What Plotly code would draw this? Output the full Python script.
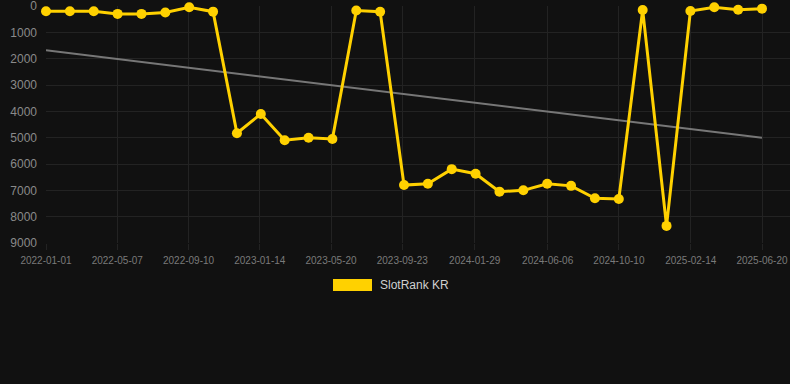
import numpy as np
import pandas as pd
import plotly.graph_objects as go

# ---- data ----
first_date = "2022-01-01"
last_date = "2025-06-20"
rank_values = [200, 200, 200, 300, 300, 250, 50, 215, 4830, 4100, 5100, 5000, 5050,
               170, 220, 6800, 6750, 6195, 6370, 7050, 7000, 6750, 6830, 7300, 7330,
               150, 8350, 190, 50, 140, 100]
x_tick_labels = ["2022-01-01", "2022-05-07", "2022-09-10", "2023-01-14", "2023-05-20",
                 "2023-09-23", "2024-01-29", "2024-06-06", "2024-10-10", "2025-02-14",
                 "2025-06-20"]
y_tick_values = [0, 1000, 2000, 3000, 4000, 5000, 6000, 7000, 8000, 9000]
series_name = "SlotRank KR"

dates = pd.date_range(first_date, last_date, periods=len(rank_values))

# linear trend
idx = np.arange(len(rank_values))
slope, intercept = np.polyfit(idx, np.array(rank_values, dtype=float), 1)
trend = slope * idx + intercept

YELLOW = "#FFD100"
BG = "#111111"
GRID = "#232323"

fig = go.Figure()
fig.add_trace(go.Scatter(x=dates, y=trend, mode="lines",
                         line=dict(color="#777777", width=2),
                         hoverinfo="skip", showlegend=False))
fig.add_trace(go.Scatter(x=dates, y=rank_values, mode="lines+markers",
                         name=series_name,
                         line=dict(color=YELLOW, width=3),
                         marker=dict(color=YELLOW, size=10),
                         cliponaxis=False,
                         showlegend=False))

fig.update_layout(
    width=790, height=384,
    margin=dict(l=46, r=0, t=6, b=141),
    paper_bgcolor=BG, plot_bgcolor=BG,
    font=dict(family="Liberation Sans, Arial, sans-serif", color="#8a8a8a"),
    showlegend=False,
)
fig.update_xaxes(
    type="date",
    range=[pd.Timestamp(first_date), pd.Timestamp(last_date) + pd.Timedelta(days=49.5)],
    tickvals=[pd.Timestamp(t) for t in x_tick_labels],
    ticktext=x_tick_labels,
    tickfont=dict(size=10, color="#7a7a7a"),
    showgrid=True, gridcolor=GRID, gridwidth=1,
    ticks="outside", ticklen=6, tickcolor=GRID,
    showline=False, zeroline=False,
    ticklabelstandoff=2,
    ticklabeloverflow="allow",
)
fig.update_yaxes(
    range=[9000, 0],
    tickvals=y_tick_values,
    tickfont=dict(size=12, color="#8a8a8a"),
    showgrid=True, gridcolor=GRID, gridwidth=1,
    showline=False, zeroline=False,
    ticks="", ticklabelstandoff=8,
    ticklabeloverflow="allow",
)

# legend drawn manually
fig.add_shape(type="rect", xref="paper", yref="paper",
              x0=(333 - 46) / 744, x1=(372 - 46) / 744,
              y0=(243 - 291) / 237, y1=(243 - 279) / 237,
              fillcolor=YELLOW, line=dict(width=0))
fig.add_annotation(xref="paper", yref="paper",
                   x=(378 - 46) / 744, y=(243 - 285) / 237,
                   xanchor="left", yanchor="middle", showarrow=False,
                   text=series_name, font=dict(size=12, color="#d0d0d0"))

fig.write_html("out.html",
               config={"displayModeBar": False},
               post_script="document.body.style.margin='0';document.body.style.background='#111111';")
